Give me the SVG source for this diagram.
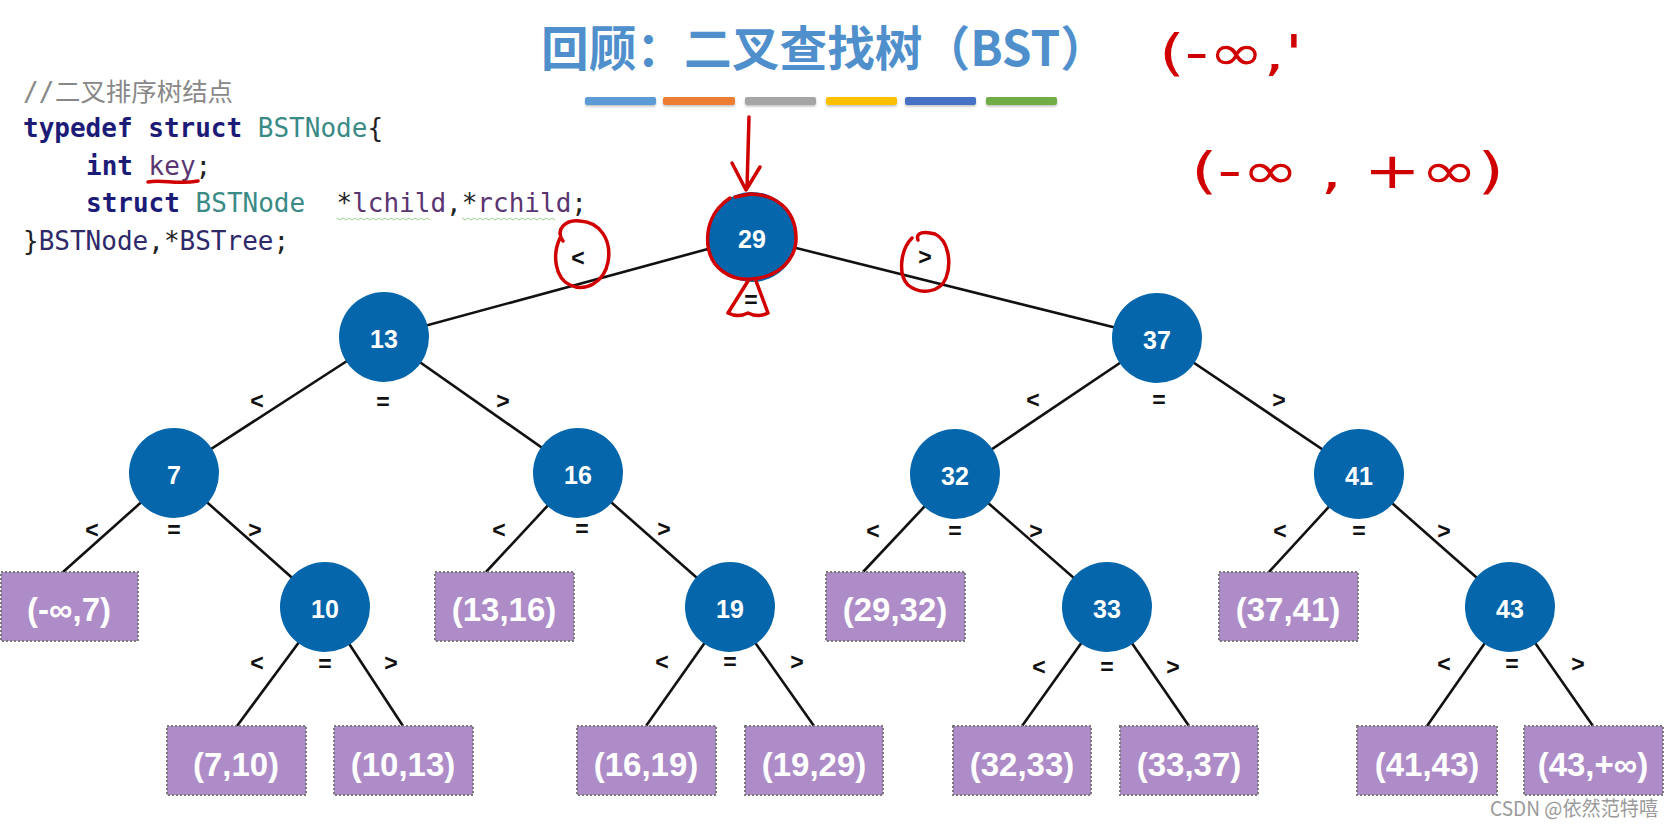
<svg xmlns="http://www.w3.org/2000/svg" width="1675" height="829" viewBox="0 0 1675 829">
<style>
.edge{stroke:#111;stroke-width:2.6;fill:none}
.node circle{fill:#0566ac}
.node text{fill:#fff;font-family:"Liberation Sans",Arial,sans-serif;font-weight:bold;font-size:25px;text-anchor:middle;dominant-baseline:central}
.leaf rect{fill:#ae8cc8;stroke:#7a7a7a;stroke-width:2;stroke-dasharray:2 2}
.leaf text{fill:#fff;font-family:"Liberation Sans",Arial,sans-serif;font-weight:bold;font-size:33px;text-anchor:middle}
.lbl{fill:#111;font-family:"Liberation Sans",Arial,sans-serif;font-weight:bold;font-size:23px;text-anchor:middle;dominant-baseline:central}
.code{font-family:"DejaVu Sans Mono","Liberation Mono",monospace;font-size:26px}
.kw{fill:#1c1c78;font-weight:bold}
.ty{fill:#3a8a86}
.var{fill:#5a3572}
.dk{fill:#222}
.nm{fill:#2e2968}
.red{stroke:#d10000;stroke-width:3.5;fill:none;stroke-linecap:round;stroke-linejoin:round}
.hand{fill:#d10000;font-family:"DejaVu Sans",sans-serif;font-size:50px}
.wavy{stroke:#9fcf8f;stroke-width:1;fill:none}
</style>
<defs>
<filter id="sh" x="-10%" y="-50%" width="120%" height="250%"><feDropShadow dx="0" dy="1.5" stdDeviation="1" flood-color="#000" flood-opacity="0.25"/></filter>
</defs>
<rect width="1675" height="829" fill="#fff"/>

<!-- title -->
<text x="541" y="66" font-family="'Noto Sans CJK SC',sans-serif" font-weight="bold" font-size="48" fill="#4f8fcc" textLength="567" lengthAdjust="spacingAndGlyphs">回顾：二叉查找树（BST）</text>
<g id="bars" filter="url(#sh)">
<rect x="585" y="97" width="71" height="8" rx="2" fill="#5b9bd5"/>
<rect x="663" y="97" width="72" height="8" rx="2" fill="#ed7d31"/>
<rect x="745" y="97" width="71" height="8" rx="2" fill="#a5a5a5"/>
<rect x="826" y="97" width="71" height="8" rx="2" fill="#ffc000"/>
<rect x="905" y="97" width="71" height="8" rx="2" fill="#4472c4"/>
<rect x="986" y="97" width="71" height="8" rx="2" fill="#70ad47"/>
</g>

<!-- code -->
<g id="code" class="code">
<text x="23" y="101" fill="#888">//</text>
<text x="55" y="101" font-family="'Noto Sans CJK SC',sans-serif" font-size="25" fill="#888" textLength="178" lengthAdjust="spacingAndGlyphs">二叉排序树结点</text>
<text x="23" y="137"><tspan class="kw">typedef struct</tspan><tspan class="ty"> BSTNode</tspan><tspan class="dk">{</tspan></text>
<text x="86" y="175"><tspan class="kw">int</tspan><tspan class="var"> key</tspan><tspan class="dk">;</tspan></text>
<text x="86" y="212" xml:space="preserve"><tspan class="kw">struct</tspan><tspan class="ty"> BSTNode</tspan><tspan class="dk">  *</tspan><tspan class="var">lchild</tspan><tspan class="dk">,*</tspan><tspan class="var">rchild</tspan><tspan class="dk">;</tspan></text>
<text x="23" y="250"><tspan class="dk">}</tspan><tspan class="nm">BSTNode</tspan><tspan class="dk">,*</tspan><tspan class="nm">BSTree</tspan><tspan class="dk">;</tspan></text>
<path class="wavy" d="M337 218 l3 2 l3 -2 l3 2 l3 -2 l3 2 l3 -2 l3 2 l3 -2 l3 2 l3 -2 l3 2 l3 -2 l3 2 l3 -2 l3 2 l3 -2 l3 2 l3 -2 l3 2 l3 -2 l3 2 l3 -2 l3 2 l3 -2 l3 2 l3 -2 l3 2 l3 -2 l3 2 l3 -2 l3 2"/>
<path class="wavy" d="M462 218 l3 2 l3 -2 l3 2 l3 -2 l3 2 l3 -2 l3 2 l3 -2 l3 2 l3 -2 l3 2 l3 -2 l3 2 l3 -2 l3 2 l3 -2 l3 2 l3 -2 l3 2 l3 -2 l3 2 l3 -2 l3 2 l3 -2 l3 2 l3 -2 l3 2 l3 -2 l3 2 l3 -2 l3 2"/>
</g>

<!-- connectors -->
<g id="edges">
<line class="edge" x1="752" y1="237" x2="384" y2="337"/>
<line class="edge" x1="752" y1="237" x2="1157" y2="338"/>
<line class="edge" x1="384" y1="337" x2="174" y2="473"/>
<line class="edge" x1="384" y1="337" x2="578" y2="473"/>
<line class="edge" x1="1157" y1="338" x2="955" y2="474"/>
<line class="edge" x1="1157" y1="338" x2="1359" y2="474"/>
<line class="edge" x1="174" y1="473" x2="63" y2="572"/>
<line class="edge" x1="174" y1="473" x2="325" y2="607"/>
<line class="edge" x1="578" y1="473" x2="486" y2="572"/>
<line class="edge" x1="578" y1="473" x2="730" y2="607"/>
<line class="edge" x1="955" y1="474" x2="863" y2="572"/>
<line class="edge" x1="955" y1="474" x2="1107" y2="607"/>
<line class="edge" x1="1359" y1="474" x2="1269" y2="572"/>
<line class="edge" x1="1359" y1="474" x2="1510" y2="607"/>
<line class="edge" x1="325" y1="607" x2="237" y2="726"/>
<line class="edge" x1="325" y1="607" x2="403" y2="726"/>
<line class="edge" x1="730" y1="607" x2="646" y2="726"/>
<line class="edge" x1="730" y1="607" x2="814" y2="726"/>
<line class="edge" x1="1107" y1="607" x2="1022" y2="726"/>
<line class="edge" x1="1107" y1="607" x2="1189" y2="726"/>
<line class="edge" x1="1510" y1="607" x2="1427" y2="726"/>
<line class="edge" x1="1510" y1="607" x2="1593" y2="726"/>
</g>

<!-- edge labels -->
<g id="labels">
<text class="lbl" x="578" y="258">&lt;</text><text class="lbl" x="751" y="300">=</text><text class="lbl" x="925" y="257">&gt;</text>
<text class="lbl" x="257" y="401">&lt;</text><text class="lbl" x="383" y="402">=</text><text class="lbl" x="503" y="401">&gt;</text>
<text class="lbl" x="1033" y="400">&lt;</text><text class="lbl" x="1159" y="400">=</text><text class="lbl" x="1279" y="400">&gt;</text>
<text class="lbl" x="92" y="530">&lt;</text><text class="lbl" x="174" y="530">=</text><text class="lbl" x="255" y="530">&gt;</text>
<text class="lbl" x="499" y="530">&lt;</text><text class="lbl" x="582" y="529">=</text><text class="lbl" x="664" y="529">&gt;</text>
<text class="lbl" x="873" y="531">&lt;</text><text class="lbl" x="955" y="531">=</text><text class="lbl" x="1036" y="531">&gt;</text>
<text class="lbl" x="1280" y="531">&lt;</text><text class="lbl" x="1359" y="531">=</text><text class="lbl" x="1444" y="531">&gt;</text>
<text class="lbl" x="257" y="663">&lt;</text><text class="lbl" x="325" y="664">=</text><text class="lbl" x="391" y="663">&gt;</text>
<text class="lbl" x="662" y="662">&lt;</text><text class="lbl" x="730" y="662">=</text><text class="lbl" x="797" y="662">&gt;</text>
<text class="lbl" x="1039" y="667">&lt;</text><text class="lbl" x="1107" y="667">=</text><text class="lbl" x="1173" y="667">&gt;</text>
<text class="lbl" x="1444" y="664">&lt;</text><text class="lbl" x="1512" y="664">=</text><text class="lbl" x="1578" y="664">&gt;</text>
</g>

<!-- tree nodes -->
<g id="n29" class="node"><circle cx="752" cy="237" r="45"/><text x="752" y="239">29</text></g>
<g id="n13" class="node"><circle cx="384" cy="337" r="45"/><text x="384" y="339">13</text></g>
<g id="n37" class="node"><circle cx="1157" cy="338" r="45"/><text x="1157" y="340">37</text></g>
<g id="n7" class="node"><circle cx="174" cy="473" r="45"/><text x="174" y="475">7</text></g>
<g id="n16" class="node"><circle cx="578" cy="473" r="45"/><text x="578" y="475">16</text></g>
<g id="n32" class="node"><circle cx="955" cy="474" r="45"/><text x="955" y="476">32</text></g>
<g id="n41" class="node"><circle cx="1359" cy="474" r="45"/><text x="1359" y="476">41</text></g>
<g id="n10" class="node"><circle cx="325" cy="607" r="45"/><text x="325" y="609">10</text></g>
<g id="n19" class="node"><circle cx="730" cy="607" r="45"/><text x="730" y="609">19</text></g>
<g id="n33" class="node"><circle cx="1107" cy="607" r="45"/><text x="1107" y="609">33</text></g>
<g id="n43" class="node"><circle cx="1510" cy="607" r="45"/><text x="1510" y="609">43</text></g>

<!-- leaf intervals -->
<g id="l_inf_7" class="leaf"><rect x="1" y="572" width="137" height="69"/><text x="69" y="621">(-∞,7)</text></g>
<g id="l_13_16" class="leaf"><rect x="435" y="572" width="139" height="69"/><text x="504" y="621">(13,16)</text></g>
<g id="l_29_32" class="leaf"><rect x="826" y="572" width="139" height="69"/><text x="895" y="621">(29,32)</text></g>
<g id="l_37_41" class="leaf"><rect x="1219" y="572" width="139" height="69"/><text x="1288" y="621">(37,41)</text></g>
<g id="l_7_10" class="leaf"><rect x="167" y="726" width="139" height="69"/><text x="236" y="776">(7,10)</text></g>
<g id="l_10_13" class="leaf"><rect x="334" y="726" width="139" height="69"/><text x="403" y="776">(10,13)</text></g>
<g id="l_16_19" class="leaf"><rect x="577" y="726" width="139" height="69"/><text x="646" y="776">(16,19)</text></g>
<g id="l_19_29" class="leaf"><rect x="745" y="726" width="138" height="69"/><text x="814" y="776">(19,29)</text></g>
<g id="l_32_33" class="leaf"><rect x="953" y="726" width="138" height="69"/><text x="1022" y="776">(32,33)</text></g>
<g id="l_33_37" class="leaf"><rect x="1120" y="726" width="138" height="69"/><text x="1189" y="776">(33,37)</text></g>
<g id="l_41_43" class="leaf"><rect x="1357" y="726" width="140" height="69"/><text x="1427" y="776">(41,43)</text></g>
<g id="l_43_inf" class="leaf"><rect x="1524" y="726" width="139" height="69"/><text x="1593" y="776">(43,+∞)</text></g>

<!-- red hand annotations -->
<g id="annotations">
<path class="red" d="M749 117 L747 188 M732 163 L746 190 L760 167"/>
<path class="red" d="M730 198 C712 210 706 228 708 246 C711 268 730 281 752 279 C778 277 797 260 796 236 C795 210 776 194 750 194 L735 197"/>
<path class="red" d="M748 281 L733 305 L728 313 Q738 318 748 313 Q758 318 768 313 L756 281"/>
<path class="red" d="M563 241 C555 230 565 219 580 221 C600 222 612 240 608 262 C604 283 585 292 570 285 C555 278 552 255 560 238"/>
<path class="red" d="M918 240 C915 232 925 231 935 234 C948 240 952 262 946 278 C940 293 920 295 908 285 C898 275 900 250 912 238"/>
<path class="red" stroke-width="4" d="M148 182 C162 179 177 185 198 181"/>
<text class="hand" x="1159" y="70" textLength="144" lengthAdjust="spacingAndGlyphs">(-∞,'</text>
<text class="hand" x="1191" y="188" textLength="313" lengthAdjust="spacingAndGlyphs">(-∞ , +∞)</text>
</g>

<text id="watermark" x="1490" y="816" font-family="'Noto Sans CJK SC',sans-serif" font-size="20" fill="#9a9a9a" textLength="168" lengthAdjust="spacingAndGlyphs">CSDN @依然范特嘻</text>
</svg>
